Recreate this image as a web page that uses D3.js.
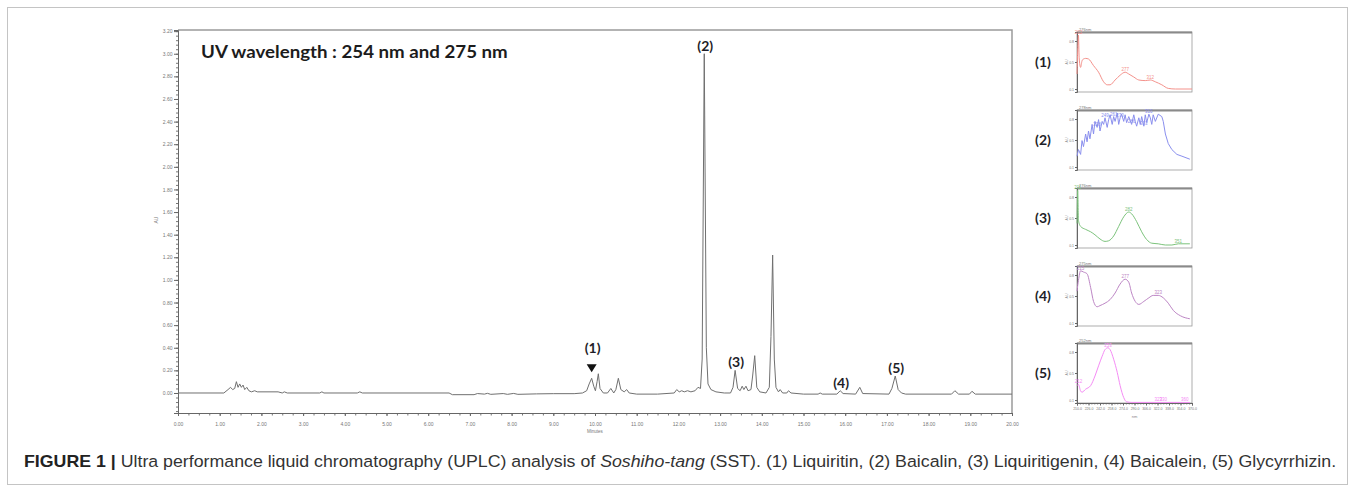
<!DOCTYPE html>
<html>
<head>
<meta charset="utf-8">
<script src="https://cdn.jsdelivr.net/npm/d3@7"></script>
<style>
  body { margin: 0; background: #fff; }
  text { font-family: "Liberation Sans", Arial, sans-serif; }
</style>
</head>
<body>
<div id="chart"></div>
<script>
// ---- chromatogram trace (minutes, AU) ----
const traceTime = [0.00,1.10,1.20,1.26,1.31,1.36,1.40,1.44,1.48,1.52,1.56,1.60,1.65,1.70,1.76,1.84,1.90,2.40,2.50,2.55,
  2.62,3.40,3.45,3.50,4.30,4.36,4.42,6.50,6.58,7.10,7.18,7.35,7.42,7.50,7.80,7.90,8.05,8.15,8.60,9.00,
  9.50,9.70,9.80,9.86,9.92,9.97,10.01,10.05,10.08,10.12,10.20,10.30,10.38,10.45,10.50,10.56,10.62,10.70,10.76,10.82,
  11.00,11.50,11.90,11.96,12.02,12.08,12.14,12.22,12.30,12.40,12.47,12.53,12.57,12.62,12.67,12.71,12.78,12.90,13.10,13.25,
  13.31,13.36,13.42,13.48,13.53,13.57,13.62,13.67,13.74,13.78,13.83,13.88,13.95,14.10,14.18,14.22,14.26,14.30,14.34,14.40,
  14.44,14.50,14.60,14.64,14.70,15.00,15.35,15.40,15.45,15.80,15.88,15.95,16.25,16.35,16.42,17.05,17.12,17.20,17.27,17.35,
  17.45,18.55,18.63,18.72,18.98,19.04,19.12,20.00];
const traceAU = [0.00,0.00,0.03,0.05,0.03,0.04,0.10,0.05,0.08,0.05,0.07,0.03,0.05,0.02,0.01,0.02,0.01,0.01,0.00,0.01,
  0.00,0.00,0.01,0.00,0.00,0.01,0.00,0.00,-0.015,-0.015,-0.005,-0.01,-0.003,-0.012,-0.005,-0.012,-0.004,-0.012,-0.008,-0.006,
  -0.006,0.00,0.02,0.08,0.13,0.06,0.02,0.10,0.17,0.04,0.00,0.00,0.04,0.00,0.03,0.13,0.03,0.01,0.03,0.00,
  -0.01,-0.01,0.00,0.03,0.01,0.02,0.01,0.02,0.01,0.02,0.05,0.04,0.30,3.00,0.40,0.08,0.03,0.01,0.00,0.00,
  0.05,0.20,0.04,0.02,0.06,0.03,0.06,0.02,0.03,0.15,0.33,0.05,0.01,0.00,0.05,0.50,1.22,0.30,0.05,0.01,
  0.03,0.00,0.00,0.02,0.00,-0.01,-0.01,0.00,-0.01,-0.01,0.02,-0.005,-0.01,0.05,-0.005,-0.01,0.04,0.15,0.03,0.00,
  -0.01,-0.01,0.02,-0.01,-0.01,0.015,-0.01,-0.01];

const peakNames = ["(1)", "(2)", "(3)", "(4)", "(5)"];
const peakTimes = [9.92, 12.62, 13.36, 15.88, 17.20];
const peakArrow = [true, false, false, false, false];

const xTickValues = [0,1,2,3,4,5,6,7,8,9,10,11,12,13,14,15,16,17,18,19,20];
const xTickLabels = ["0.00","1.00","2.00","3.00","4.00","5.00","6.00","7.00","8.00","9.00","10.00",
  "11.00","12.00","13.00","14.00","15.00","16.00","17.00","18.00","19.00","20.00"];
const yTickValues = [0,0.2,0.4,0.6,0.8,1.0,1.2,1.4,1.6,1.8,2.0,2.2,2.4,2.6,2.8,3.0,3.2];
const yTickLabels = ["0.00","0.20","0.40","0.60","0.80","1.00","1.20","1.40","1.60","1.80","2.00",
  "2.20","2.40","2.60","2.80","3.00","3.20"];

// ---- UV spectra of the five compounds (nm, relative absorbance) ----
const spec1Wl = [210,211,212,213,215,217,219,222,226,233,240,247,252,256,263,270,277,282,289,296,305,312,319,328,337,347,370];
const spec1Abs = [0.30,0.70,0.95,0.57,0.41,0.52,0.55,0.56,0.55,0.44,0.33,0.17,0.12,0.12,0.20,0.28,0.33,0.30,0.25,0.20,0.19,0.20,0.17,0.12,0.06,0.05,0.05];
const spec2Wl = [210,212,215,217,219,222,224,226,228,231,233,235,238,240,242,245,247,249,252,254,
  256,259,261,263,266,268,270,272,275,277,279,282,286,289,291,293,296,298,300,303,
  305,307,310,312,314,316,319,323,328,330,333,337,342,349,356,367];
const spec2Abs = [0.23,0.34,0.26,0.49,0.39,0.60,0.47,0.65,0.52,0.76,0.60,0.81,0.71,0.84,0.65,0.81,0.76,0.87,0.71,0.84,
  0.92,0.76,0.89,0.81,0.95,0.76,0.87,0.93,0.81,0.92,0.79,0.89,0.76,0.92,0.81,0.73,0.87,0.76,0.89,0.73,
  0.92,0.79,0.93,0.87,0.76,0.92,0.81,0.93,0.89,0.81,0.60,0.44,0.34,0.26,0.23,0.18];
const spec3Wl = [210,211,212,215,222,229,235,242,249,254,261,268,275,282,286,293,300,307,314,323,333,342,351,367];
const spec3Abs = [0.41,0.96,0.46,0.36,0.31,0.27,0.22,0.15,0.11,0.12,0.20,0.36,0.52,0.60,0.57,0.44,0.27,0.14,0.08,0.07,0.05,0.05,0.07,0.07];
const spec4Wl = [210,212,215,219,224,229,233,238,242,249,256,263,270,277,282,286,291,296,303,310,316,323,330,337,344,354,367];
const spec4Abs = [0.58,0.76,0.92,0.90,0.87,0.64,0.41,0.32,0.34,0.38,0.44,0.55,0.70,0.78,0.73,0.55,0.41,0.36,0.41,0.47,0.51,0.51,0.47,0.38,0.26,0.17,0.12];
const spec5Wl = [210,212,215,217,222,229,235,240,245,249,253,256,261,266,270,275,279,286,310,367];
const spec5Abs = [0.29,0.31,0.20,0.18,0.23,0.29,0.45,0.62,0.78,0.89,0.92,0.89,0.73,0.51,0.29,0.09,0.02,0.01,0.01,0.01];

const specWl = [spec1Wl, spec2Wl, spec3Wl, spec4Wl, spec5Wl];
const specAbs = [spec1Abs, spec2Abs, spec3Abs, spec4Abs, spec5Abs];
const specPeaks = [[212, 277, 312], [238, 249, 261, 270, 286, 303, 310], [211, 282, 351], [215, 277, 323], [212, 253, 323, 330, 360]];
const specTitles = ["276nm", "278nm", "276nm", "275nm", "252nm"];
const specColors = ["#f4918b", "#8a8fee", "#7cc37c", "#bd86c5", "#f58bf5"];
const specWlTicks = [210, 226, 242, 258, 274, 290, 306, 322, 338, 354, 370];

const width = 1355, height = 490;

const svg = d3.select("#chart").append("svg")
    .attr("width", width)
    .attr("height", height)
    .attr("viewBox", [0, 0, width, height]);

// outer figure frame
svg.append("rect")
    .attr("x", 7.5).attr("y", 7.5)
    .attr("width", 1340).attr("height", 477)
    .attr("fill", "none")
    .attr("stroke", "#c4c4c4");

// ---- main chromatogram ----
const x = d3.scaleLinear().domain([0, 20]).range([178, 1012]);
const y = d3.scaleLinear().domain([-0.177, 3.21]).range([413, 30]);

// frame top and right
svg.append("path")
    .attr("d", `M${x(0)},${y(3.21)}H${x(20)}V${y(-0.177)}`)
    .attr("fill", "none")
    .attr("stroke", "#9a9a9a")
    .attr("stroke-width", 1.5);

function styleAxis(g, fs) {
    g.select(".domain").attr("stroke", "#666");
    g.selectAll(".tick line").attr("stroke", "#666");
    g.selectAll(".tick text").attr("fill", "#777").style("font-size", fs + "px");
}

// minor ticks
svg.append("g")
    .attr("transform", `translate(${x(0)},0)`)
    .call(d3.axisLeft(y).tickValues(d3.range(-0.16, 3.21, 0.04)).tickSize(2).tickFormat(""))
    .call(g => g.select(".domain").remove())
    .selectAll("line").attr("stroke", "#777");
svg.append("g")
    .attr("transform", `translate(0,${y(-0.177)})`)
    .call(d3.axisBottom(x).tickValues(d3.range(0, 20.01, 0.25)).tickSize(2.5).tickFormat(""))
    .call(g => g.select(".domain").remove())
    .selectAll("line").attr("stroke", "#777");

svg.append("g")
    .attr("transform", `translate(${x(0)},0)`)
    .call(d3.axisLeft(y).tickValues(yTickValues).tickSize(4).tickPadding(1.5)
        .tickFormat((d, i) => yTickLabels[i]))
    .call(g => styleAxis(g, 5));

svg.append("g")
    .attr("transform", `translate(0,${y(-0.177)})`)
    .call(d3.axisBottom(x).tickValues(xTickValues).tickSize(3).tickPadding(6)
        .tickFormat((d, i) => xTickLabels[i]))
    .call(g => styleAxis(g, 5));

svg.append("text")
    .attr("transform", `translate(158,220) rotate(-90)`)
    .attr("text-anchor", "middle")
    .attr("fill", "#777")
    .style("font-size", "5px")
    .text("AU");

svg.append("text")
    .attr("x", x(10)).attr("y", 433)
    .attr("text-anchor", "middle")
    .attr("fill", "#777")
    .style("font-size", "4.5px")
    .text("Minutes");

const traceData = traceTime.map((t, i) => ({ t: t, v: traceAU[i] }));

svg.append("path")
    .datum(traceData)
    .attr("d", d3.line().x(d => x(d.t)).y(d => y(d.v)))
    .attr("fill", "none")
    .attr("stroke", "#707070")
    .attr("stroke-width", 1)
    .attr("stroke-linejoin", "round");

// UV note
const uv = svg.append("text")
    .attr("fill", "#1c1c1c")
    .style("font-family", "Lato, 'Open Sans', sans-serif")
    .style("font-weight", "bold")
    .style("font-size", "17px")
    .text("UV wavelength : 254 nm and 275 nm");
fitText(uv, 201, 58, 307);

// peak labels, placed above each apex
peakNames.forEach((name, i) => {
    const near = traceData.filter(d => Math.abs(d.t - peakTimes[i]) < 0.05);
    const apex = d3.max(near, d => d.v);
    const px = x(peakTimes[i]);
    const py = y(apex);
    if (peakArrow[i]) {
        svg.append("path")
            .attr("d", `M${px - 5},${py - 14}h10l-5,8z`)
            .attr("fill", "#111");
    }
    svg.append("text")
        .attr("x", px + 1)
        .attr("y", peakArrow[i] ? py - 25 : py - 3)
        .attr("text-anchor", "middle")
        .attr("fill", "#1e1e28")
        .style("font-family", "Lato, 'Open Sans', sans-serif")
        .style("font-weight", "bold")
        .style("font-size", "14px")
        .text(name);
});

// ---- spectra panels ----
const specTops = [32, 110, 188, 266, 343];
const specH = 60;
const xs = d3.scaleLinear().domain([210, 370]).range([1077, 1192]);

specWl.forEach((wl, i) => {
    const top = specTops[i];
    const ys = d3.scaleLinear().domain([0, 1]).range([top + specH, top]);
    const g = svg.append("g");

    g.append("rect")
        .attr("x", xs(210)).attr("y", top)
        .attr("width", xs(370) - xs(210)).attr("height", specH)
        .attr("fill", "none")
        .attr("stroke", "#9a9a9a")
        .attr("stroke-width", 0.8);
    g.append("line")
        .attr("x1", xs(210)).attr("x2", xs(370))
        .attr("y1", top + 0.5).attr("y2", top + 0.5)
        .attr("stroke", "#8a8a8a")
        .attr("stroke-width", 2);

    g.append("g")
        .attr("transform", `translate(${xs(210)},0)`)
        .call(d3.axisLeft(ys).tickValues([0.05, 0.5, 0.85]).tickSize(2).tickPadding(1)
            .tickFormat(d3.format(".1f")))
        .call(a => styleAxis(a, 3.5));

    g.append("text")
        .attr("transform", `translate(${xs(210) - 9},${top + specH / 2}) rotate(-90)`)
        .attr("text-anchor", "middle")
        .attr("fill", "#888")
        .style("font-size", "3.5px")
        .text("AU");

    g.append("text")
        .attr("x", xs(210) + 2).attr("y", top - 1.5)
        .attr("fill", "#777")
        .style("font-size", "4px")
        .text(specTitles[i]);

    const pts = wl.map((w, j) => ({ w: w, a: specAbs[i][j] }));
    g.append("path")
        .datum(pts)
        .attr("d", d3.line().x(d => xs(d.w)).y(d => ys(d.a))
            .curve(i === 1 ? d3.curveLinear : d3.curveMonotoneX))
        .attr("fill", "none")
        .attr("stroke", specColors[i])
        .attr("stroke-width", 1);

    specPeaks[i].forEach(p => {
        const nearest = pts.reduce((a, b) => Math.abs(b.w - p) < Math.abs(a.w - p) ? b : a);
        g.append("text")
            .attr("x", xs(p)).attr("y", ys(nearest.a) - 1)
            .attr("text-anchor", "middle")
            .attr("fill", specColors[i])
            .style("font-size", "4.5px")
            .text(p);
    });

    svg.append("text")
        .attr("x", 1043).attr("y", top + specH / 2 + 5)
        .attr("text-anchor", "middle")
        .attr("fill", "#1e1e28")
        .style("font-family", "Lato, 'Open Sans', sans-serif")
        .style("font-weight", "bold")
        .style("font-size", "14px")
        .text(peakNames[i]);

    if (i === specWl.length - 1) {
        g.append("g")
            .attr("transform", `translate(0,${top + specH})`)
            .call(d3.axisBottom(xs).tickValues(d3.range(210, 371, 4)).tickSize(1.5).tickFormat(""))
            .call(a => a.select(".domain").remove())
            .selectAll("line").attr("stroke", "#888");
        g.append("g")
            .attr("transform", `translate(0,${top + specH})`)
            .call(d3.axisBottom(xs).tickValues(specWlTicks).tickSize(2.5).tickPadding(2)
                .tickFormat(d3.format(".1f")))
            .call(a => styleAxis(a, 3.5));
        g.append("text")
            .attr("x", xs(290)).attr("y", top + specH + 15)
            .attr("text-anchor", "middle")
            .attr("fill", "#888")
            .style("font-size", "4px")
            .text("nm");
    }
});

// ---- caption ----
const cap = svg.append("text")
    .attr("fill", "#333")
    .style("font-family", "'Liberation Sans Narrow', 'Liberation Sans', sans-serif")
    .style("font-size", "16.5px");
cap.append("tspan").style("font-weight", "bold").attr("fill", "#222").text("FIGURE 1 |");
cap.append("tspan").text(" Ultra performance liquid chromatography (UPLC) analysis of ");
cap.append("tspan").style("font-style", "italic").text("Soshiho-tang");
cap.append("tspan").text(" (SST). (1) Liquiritin, (2) Baicalin, (3) Liquiritigenin, (4) Baicalein, (5) Glycyrrhizin.");
fitText(cap, 24, 467, 1314);

function fitText(sel, tx, ty, target) {
    const w = sel.node().getComputedTextLength();
    sel.attr("transform", `translate(${tx},${ty}) scale(${target / w},1)`);
}
</script>
</body>
</html>
